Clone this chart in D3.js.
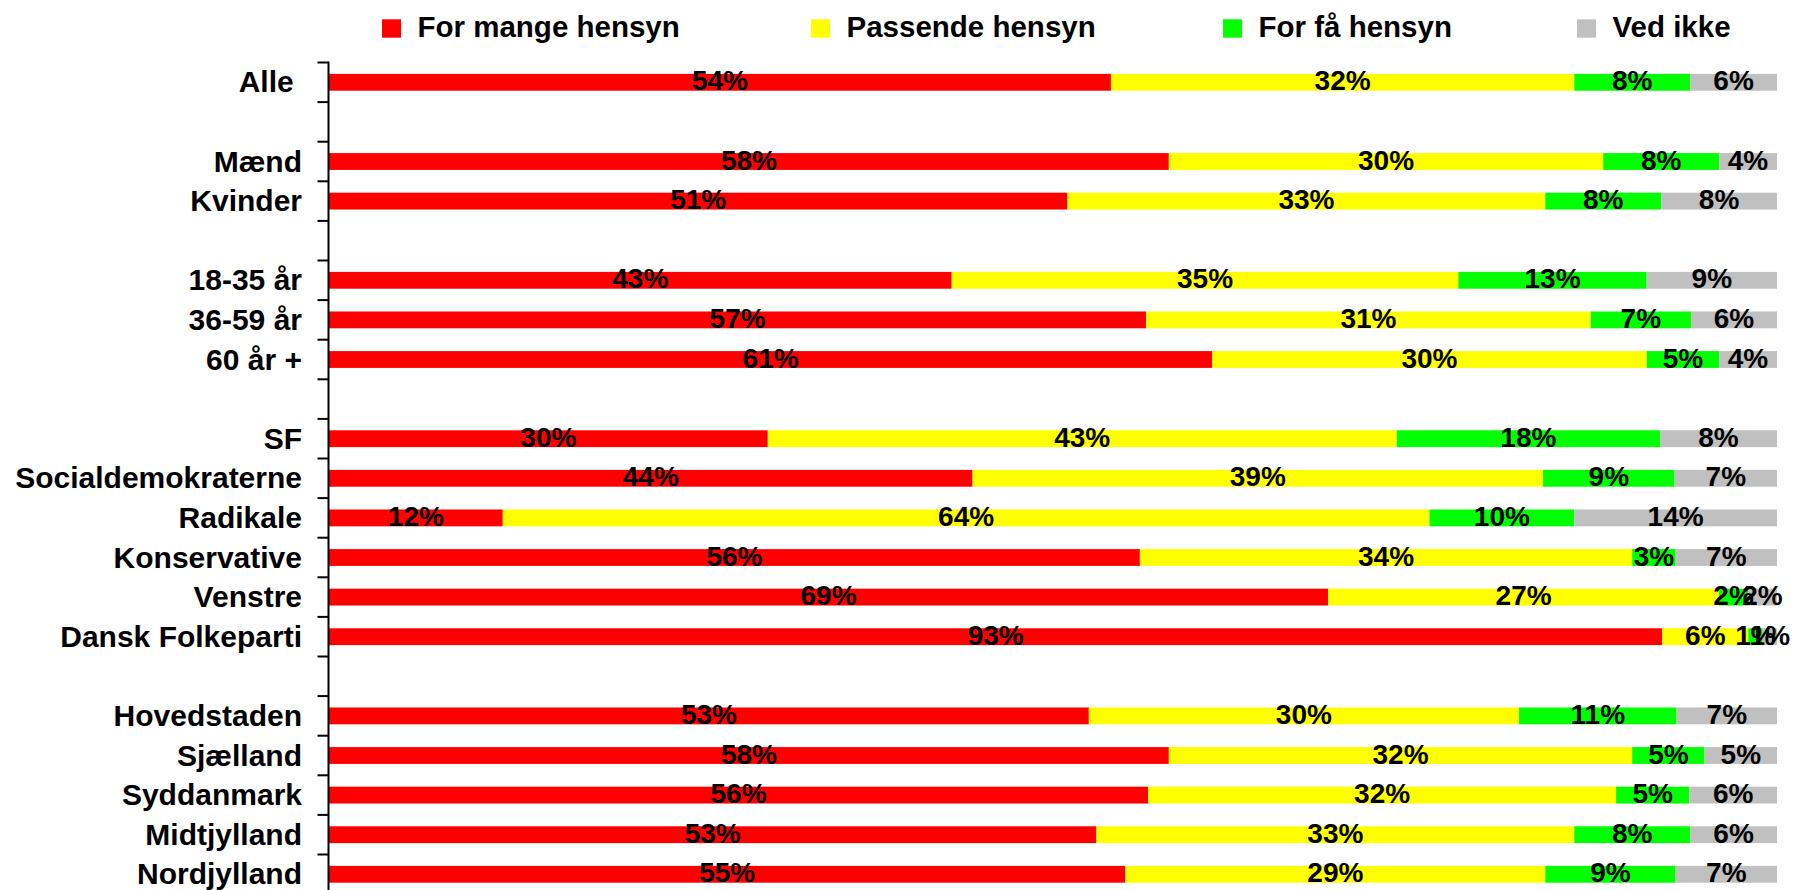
<!DOCTYPE html>
<html>
<head>
<meta charset="utf-8">
<script src="https://cdn.jsdelivr.net/npm/d3@7"></script>
<style>
  html, body { margin: 0; padding: 0; background: #ffffff; }
  svg { display: block; }
  text { font-family: "Liberation Sans", Arial, Helvetica, sans-serif; font-weight: bold; fill: #000; }
</style>
</head>
<body>
<svg id="chart" width="1796" height="890"></svg>
<script>
// ---- data ----
const categories = ["Alle ", "", "Mænd", "Kvinder", "", "18-35 år", "36-59 år", "60 år +", "",
  "SF", "Socialdemokraterne", "Radikale", "Konservative", "Venstre", "Dansk Folkeparti", "",
  "Hovedstaden", "Sjælland", "Syddanmark", "Midtjylland", "Nordjylland"];
const seriesNames = ["For mange hensyn", "Passende hensyn", "For få hensyn", "Ved ikke"];
const seriesColors = ["#FF0000", "#FFFF00", "#00FF00", "#C0C0C0"];
const forMange = [54, null, 58, 51, null, 43, 57, 61, null, 30, 44, 12, 56, 69, 93, null, 53, 58, 56, 53, 55];
const passende = [32, null, 30, 33, null, 35, 31, 30, null, 43, 39, 64, 34, 27, 6, null, 30, 32, 32, 33, 29];
const forFaa   = [8, null, 8, 8, null, 13, 7, 5, null, 18, 9, 10, 3, 2, 1, null, 11, 5, 5, 8, 9];
const vedIkke  = [6, null, 4, 8, null, 9, 6, 4, null, 8, 7, 14, 7, 2, 1, null, 7, 5, 6, 6, 7];
const legendX = [382, 811, 1223, 1577];

// ---- build table ----
const rows = categories.map((c, i) => ({
  key: "r" + i, label: c, blank: forMange[i] === null,
  [seriesNames[0]]: forMange[i] || 0,
  [seriesNames[1]]: passende[i] || 0,
  [seriesNames[2]]: forFaa[i] || 0,
  [seriesNames[3]]: vedIkke[i] || 0
}));
const dataRows = rows.filter(r => !r.blank);

const svg = d3.select("#chart");
const axisX = 328.5;
const x = d3.scaleLinear().domain([0, 1]).range([329, 1777]);
const y = d3.scaleBand().domain(rows.map(r => r.key)).range([62.5, 62.5 + 21 * 39.6]).padding(0);
const bw = y.bandwidth();
const barH = bw * 0.425;
const color = d3.scaleOrdinal().domain(seriesNames).range(seriesColors);

const stack = d3.stack().keys(seriesNames).offset(d3.stackOffsetExpand);
const stacked = stack(dataRows);

// bars
const g = svg.append("g");
stacked.forEach((layer, si) => {
  g.selectAll(null).data(layer).enter().append("rect")
    .attr("x", d => x(d[0]))
    .attr("y", d => y(d.data.key) + (bw - barH) / 2)
    .attr("width", d => x(d[1]) - x(d[0]))
    .attr("height", barH)
    .attr("fill", color(layer.key));
});

// data labels
stacked.forEach((layer) => {
  g.selectAll(null).data(layer).enter().append("text")
    .attr("x", d => (x(d[0]) + x(d[1])) / 2)
    .attr("y", d => y(d.data.key) + bw / 2 + 8)
    .attr("text-anchor", "middle")
    .style("font-size", "28px")
    .text(d => d.data[layer.key] + "%");
});

// axis line and ticks at band boundaries
const bounds = rows.map(r => y(r.key)).concat([y.range()[1]]);
svg.append("line")
  .attr("x1", axisX).attr("x2", axisX)
  .attr("y1", bounds[0] - 1).attr("y2", y.range()[1])
  .attr("stroke", "#000").attr("stroke-width", 2);
svg.selectAll(".tick").data(bounds).enter().append("line")
  .attr("x1", axisX - 11).attr("x2", axisX)
  .attr("y1", d => d).attr("y2", d => d)
  .attr("stroke", "#000").attr("stroke-width", 2);

// category labels
svg.selectAll(".cat").data(rows.filter(r => !r.blank)).enter().append("text")
  .attr("x", 302)
  .attr("y", d => y(d.key) + bw / 2 + 10)
  .attr("text-anchor", "end")
  .style("font-size", "30px")
  .style("white-space", "pre")
  .text(d => d.label);

// legend
const lg = svg.selectAll(".leg").data(seriesNames).enter().append("g")
  .attr("transform", (d, i) => `translate(${legendX[i]},0)`);
lg.append("rect").attr("x", 0).attr("y", 19.3).attr("width", 19).attr("height", 18.4)
  .attr("fill", d => color(d));
lg.append("text").attr("x", 35.5).attr("y", 37.3)
  .style("font-size", "29.5px")
  .text(d => d);
</script>
</body>
</html>
